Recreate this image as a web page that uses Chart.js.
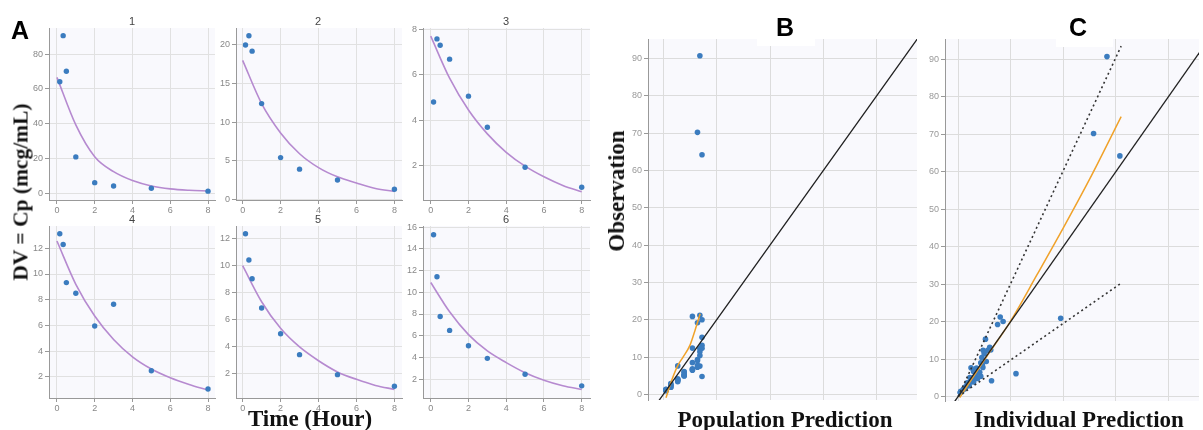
<!DOCTYPE html>
<html>
<head>
<meta charset="utf-8">
<script src="https://cdn.jsdelivr.net/npm/chart.js@4/dist/chart.umd.min.js"></script>
<style>
body { margin: 0; background: #fff; width: 1203px; height: 430px; position: relative; overflow: hidden; }
canvas { position: absolute; }
.lbl { position: absolute; white-space: nowrap; line-height: 1; transform: translate(-50%, -50%); z-index: 5; }
.letter { font: bold 25px "Liberation Sans", Arial, sans-serif; color: #000; }
.serif { font: bold 23px "Liberation Serif", "Times New Roman", serif; color: #111; }
.num { font: 11px "Liberation Sans", Arial, sans-serif; color: #444; }
.rot { transform: translate(-50%, -50%) rotate(-90deg); }
.blank { position: absolute; background: #fff; z-index: 4; }
</style>
</head>
<body>

<canvas id="s1"></canvas>
<canvas id="s2"></canvas>
<canvas id="s3"></canvas>
<canvas id="s4"></canvas>
<canvas id="s5"></canvas>
<canvas id="s6"></canvas>
<canvas id="popChart"></canvas>
<canvas id="indChart"></canvas>

<div class="lbl letter" style="left:20px;top:30px">A</div>
<div class="lbl letter" style="left:785px;top:27px">B</div>
<div class="lbl letter" style="left:1078px;top:27px">C</div>

<div class="lbl num" style="left:132px;top:21px">1</div>
<div class="lbl num" style="left:318px;top:21px">2</div>
<div class="lbl num" style="left:506px;top:21px">3</div>
<div class="lbl num" style="left:132px;top:219px">4</div>
<div class="lbl num" style="left:318px;top:219px">5</div>
<div class="lbl num" style="left:506px;top:219px">6</div>

<div class="lbl serif rot" style="left:21px;top:192px;font-size:21.5px">DV = Cp (mcg/mL)</div>
<div class="lbl serif" style="left:310px;top:419px">Time (Hour)</div>
<div class="lbl serif rot" style="left:617px;top:191px">Observation</div>
<div class="lbl serif" style="left:785px;top:420px">Population Prediction</div>
<div class="lbl serif" style="left:1079px;top:420px">Individual Prediction</div>

<div class="blank" style="left:757px;top:39px;width:58px;height:7px"></div>
<div class="blank" style="left:1056px;top:39px;width:57px;height:8px"></div>

<script>
// sampling times and fitted-curve times (hours)
const times = [0.15, 0.33, 0.5, 1, 2, 3, 5, 8];
const curveTimes = [0, 1, 2, 3, 4, 5, 6, 7, 8];

// observed concentrations per subject
const obs1 = [64.2, 90.7, 70.2, 20.9, 6.1, 4.2, 2.9, 1.2];
const obs2 = [20.0, 21.2, 19.2, 12.4, 5.4, 3.9, 2.5, 1.3];
const obs3 = [4.8, 7.58, 7.3, 6.69, 5.06, 3.69, 1.93, 1.05];
const obs4 = [13.14, 12.3, 9.33, 8.5, 5.95, 7.64, 2.46, 1.04];
const obs5 = [12.34, 10.39, 9.0, 6.84, 4.93, 3.38, 1.9, 1.04];
const obs6 = [15.3, 11.43, 7.77, 6.49, 5.08, 3.92, 2.46, 1.39];

// individual fitted curves, read at curveTimes
const fit1 = [66.7, 39.3, 21, 12.4, 7.3, 4.2, 2.5, 1.7, 1.3];
const fit2 = [18, 12.4, 8.6, 5.9, 4.1, 2.9, 2.1, 1.4, 1.0];
const fit3 = [7.7, 5.85, 4.45, 3.4, 2.59, 1.98, 1.51, 1.13, 0.85];
const fit4 = [12.57, 9.2, 6.73, 4.9, 3.55, 2.6, 1.92, 1.4, 0.96];
const fit5 = [9.97, 7.3, 5.33, 3.95, 2.93, 2.1, 1.55, 1.1, 0.81];
const fit6 = [10.9, 8.2, 6.1, 4.6, 3.53, 2.6, 1.91, 1.4, 1.06];

// individual predictions at the sampling times
const ipred1 = [61.5, 56.6, 51.5, 39, 22, 12.7, 4.2, 1.3];
const ipred2 = [17.1, 16.0, 15.0, 12.4, 8.6, 5.9, 2.9, 1.0];
const ipred3 = [7.4, 7.0, 6.7, 5.85, 4.45, 3.4, 1.98, 0.85];
const ipred4 = [12.0, 11.3, 10.7, 9.2, 6.73, 4.9, 2.6, 0.96];
const ipred5 = [9.5, 9.0, 8.6, 7.3, 5.33, 3.95, 2.1, 0.81];
const ipred6 = [10.4, 9.9, 9.4, 8.2, 6.1, 4.6, 2.6, 1.06];

// population prediction at the sampling times
const popPred = [14.5, 13.7, 12.8, 10.9, 7.8, 5.4, 2.8, 1.0];

// smoother and reference lines for the goodness-of-fit plots
const loessPop = [[1, -0.9], [3, 3.5], [5.4, 7.7], [7.5, 10.1], [10, 13.2], [11.9, 17.2], [13.8, 21.6]];
const loessInd = [[0.6, -0.3], [10, 9.8], [20, 20.2], [30, 32.5], [40, 45], [50, 58], [62, 74.7]];
const unityLine = [[-10, -10], [110, 110]];
const upperFold = [[0, 0], [62, 93.5]];
const lowerFold = [[0, 0], [61.5, 30]];

// tick labels
const xTicksA = [0, 2, 4, 6, 8];
const yTicks1 = [0, 20, 40, 60, 80];
const yTicks2 = [0, 5, 10, 15, 20];
const yTicks3 = [2, 4, 6, 8];
const yTicks4 = [2, 4, 6, 8, 10, 12];
const yTicks5 = [2, 4, 6, 8, 10, 12];
const yTicks6 = [2, 4, 6, 8, 10, 12, 14, 16];
const gofYTicks = [0, 10, 20, 30, 40, 50, 60, 70, 80, 90];
const gofXGrid = [0, 20, 40, 60, 80];

const dotColor = '#3b7cbf';
const curveColor = '#b68ad0';

const plotBg = {
    id: 'plotBg',
    beforeDraw(chart) {
        const a = chart.chartArea, c = chart.ctx;
        c.save();
        c.fillStyle = '#f9f9fd';
        c.fillRect(a.left, a.top, a.right - a.left, a.bottom - a.top);
        c.restore();
    }
};

function fixAxis(size) {
    return function(axis) {
        if (axis.isHorizontal()) {
            axis.height = size; axis.paddingLeft = 0; axis.paddingRight = 0;
        } else {
            axis.width = size; axis.paddingTop = 0; axis.paddingBottom = 0;
        }
    };
}

function setTicks(list) {
    return function(axis) { axis.ticks = list.map(v => ({ value: v })); };
}

function xy(xs, ys) {
    return xs.map((x, i) => ({ x: x, y: ys[i] }));
}

// place a canvas so that its chart area lands on the given rectangle
function place(id, box, m) {
    const cv = document.getElementById(id);
    const w = box.r - box.l + m.l + m.r, h = box.b - box.t + m.t + m.b;
    cv.width = w; cv.height = h;
    cv.style.width = w + 'px'; cv.style.height = h + 'px';
    cv.style.left = (box.l - m.l) + 'px';
    cv.style.top = (box.t - m.t) + 'px';
    return cv;
}

function smallChart(id, box, xr, yr, obs, fit, yTicks) {
    const m = { l: 40, r: 6, t: 4, b: 16 };
    const cv = place(id, box, m);
    new Chart(cv.getContext('2d'), {
        type: 'scatter',
        data: {
            datasets: [
                {
                    data: xy(times, obs),
                    backgroundColor: dotColor,
                    borderColor: dotColor,
                    pointRadius: 2.7,
                    pointBorderWidth: 0
                },
                {
                    data: xy(curveTimes, fit),
                    showLine: true,
                    borderColor: curveColor,
                    borderWidth: 1.6,
                    pointRadius: 0,
                    cubicInterpolationMode: 'monotone'
                }
            ]
        },
        plugins: [plotBg],
        options: {
            responsive: false,
            animation: false,
            layout: { padding: { top: m.t, right: m.r, left: 0, bottom: 0 } },
            plugins: { legend: { display: false }, tooltip: { enabled: false } },
            scales: {
                x: {
                    type: 'linear', min: xr[0], max: xr[1],
                    afterBuildTicks: setTicks(xTicksA),
                    afterFit: fixAxis(m.b),
                    grid: { color: '#e1e1e1', tickColor: '#999', tickLength: 4 },
                    border: { color: '#999' },
                    ticks: { color: '#888', font: { size: 9, family: 'Liberation Sans' }, padding: 1, maxRotation: 0 }
                },
                y: {
                    type: 'linear', min: yr[0], max: yr[1],
                    afterBuildTicks: setTicks(yTicks),
                    afterFit: fixAxis(m.l),
                    grid: { color: '#e1e1e1', tickColor: '#999', tickLength: 4 },
                    border: { color: '#999' },
                    ticks: { color: '#888', font: { size: 9, family: 'Liberation Sans' }, padding: 2 }
                }
            }
        }
    });
}

smallChart('s1', { l: 49, r: 215, t: 28, b: 200 }, [-0.42, 8.37], [-3.9, 95.1], obs1, fit1, yTicks1);
smallChart('s2', { l: 236, r: 402, t: 28, b: 200 }, [-0.35, 8.4], [-0.1, 22.2], obs2, fit2, yTicks2);
smallChart('s3', { l: 423, r: 590, t: 28, b: 200 }, [-0.41, 8.44], [0.49, 8.06], obs3, fit3, yTicks3);
smallChart('s4', { l: 49, r: 215, t: 226, b: 398 }, [-0.42, 8.37], [0.34, 13.74], obs4, fit4, yTicks4);
smallChart('s5', { l: 236, r: 402, t: 226, b: 398 }, [-0.35, 8.4], [0.17, 12.91], obs5, fit5, yTicks5);
smallChart('s6', { l: 423, r: 590, t: 226, b: 398 }, [-0.41, 8.44], [0.27, 16.1], obs6, fit6, yTicks6);

const allObs = [obs1, obs2, obs3, obs4, obs5, obs6];
const allIpred = [ipred1, ipred2, ipred3, ipred4, ipred5, ipred6];
const popPoints = allObs.flatMap(o => xy(popPred, o));
const indPoints = allObs.flatMap((o, s) => xy(allIpred[s], o));

function pairs(list) {
    return list.map(p => ({ x: p[0], y: p[1] }));
}

function gofChart(id, box, xr, yr, lines, points, mr) {
    const m = { l: 40, r: mr, t: 4, b: 0 };
    const cv = place(id, box, m);
    new Chart(cv.getContext('2d'), {
        type: 'scatter',
        data: {
            datasets: lines.concat([{
                data: points,
                backgroundColor: dotColor,
                borderColor: dotColor,
                pointRadius: 2.8,
                pointBorderWidth: 0
            }])
        },
        plugins: [plotBg],
        options: {
            responsive: false,
            animation: false,
            layout: { padding: { top: m.t, right: m.r, left: 0, bottom: 0 } },
            plugins: { legend: { display: false }, tooltip: { enabled: false } },
            scales: {
                x: {
                    type: 'linear', min: xr[0], max: xr[1],
                    afterBuildTicks: setTicks(gofXGrid),
                    afterFit: fixAxis(0),
                    grid: { color: '#dcdcdc', drawTicks: false },
                    border: { display: false },
                    ticks: { display: false }
                },
                y: {
                    type: 'linear', min: yr[0], max: yr[1],
                    afterBuildTicks: setTicks(gofYTicks),
                    afterFit: fixAxis(m.l),
                    grid: { color: '#dcdcdc', tickColor: '#999', tickLength: 4 },
                    border: { color: '#999' },
                    ticks: { color: '#999', font: { size: 9, family: 'Liberation Sans' }, padding: 2 }
                }
            }
        }
    });
}

function lineSet(data, color, width, dash) {
    return {
        data: pairs(data), showLine: true, borderColor: color, borderWidth: width,
        borderDash: dash || [], pointRadius: 0, cubicInterpolationMode: 'monotone'
    };
}

gofChart('popChart', { l: 648, r: 917, t: 39, b: 404 }, [-5.75, 95.1], [-1.5, 95.2], [
    lineSet(unityLine, '#222', 1.3),
    lineSet(loessPop, '#f0a22a', 1.5)
], popPoints, 6);

gofChart('indChart', { l: 945, r: 1203, t: 39, b: 405 }, [-5, 91.6], [-1.2, 95.4], [
    lineSet(unityLine, '#222', 1.3),
    lineSet(upperFold, '#333', 1.6, [2, 3]),
    lineSet(lowerFold, '#333', 1.6, [2, 3]),
    lineSet(loessInd, '#f0a22a', 1.5)
], indPoints, 0);
</script>
</body>
</html>
